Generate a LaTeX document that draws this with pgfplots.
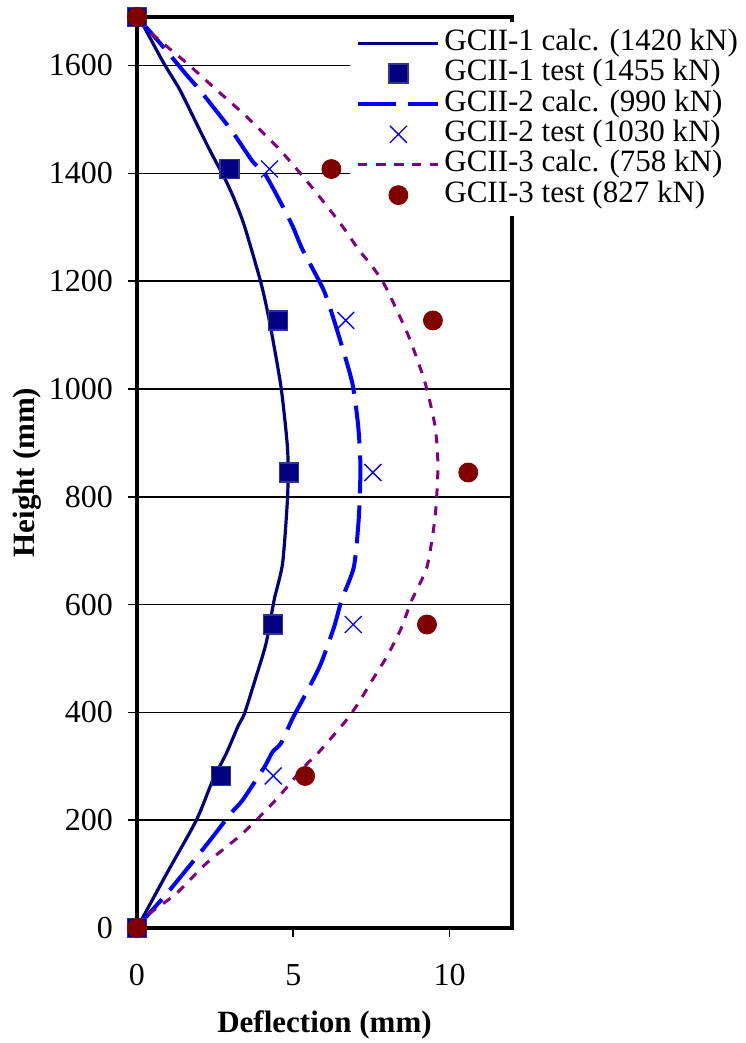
\documentclass[border=0pt]{standalone}
\usepackage{fontspec}
\setmainfont{Liberation Serif}
\usepackage{pgfplots}
\pgfplotsset{compat=1.18}
\definecolor{navyc}{RGB}{0,0,128}
\definecolor{navyedge}{RGB}{50,50,150}
\definecolor{bluec}{RGB}{0,0,255}
\definecolor{purplec}{RGB}{128,0,128}
\definecolor{darkredc}{RGB}{128,0,0}
\begin{document}
\fontsize{16}{19}\selectfont
\begin{tikzpicture}
\begin{axis}[
  scale only axis,
  width=187.5pt, height=455.5pt,
  xmin=0, xmax=12, ymin=0, ymax=1690,
  xtick={0,5,10}, ytick={0,200,...,1600},
  clip=false,
  axis line style={line width=1.8pt},
  tick style={line width=0.8pt, black},
  tick align=outside,
  major tick length=4.5pt,
  xtick pos=bottom, ytick pos=left,
  ymajorgrids,
  major grid style={line width=0.8pt, black},
  /pgf/number format/assume math mode=true,
  /pgf/number format/1000 sep={},
  ticklabel style={font=\fontsize{16}{19}\selectfont},
  xticklabel style={yshift=-8pt},
  yticklabel style={xshift=-2pt},
  xlabel={\textbf{Deflection (mm)}},
  ylabel={\textbf{Height (mm)}},
  xlabel style={at={(axis description cs:0.5,-0.1065)}, anchor=center},
  ylabel style={at={(axis description cs:-0.293,0.5)}, anchor=center},
  label style={font=\fontsize{15.5}{18}\selectfont},
  legend image code/.code={\draw[mark repeat=2,mark phase=2,#1] plot coordinates {(0pt,0pt) (20pt,0pt) (40pt,0pt)};},
  legend style={at={(0.568,0.995)}, anchor=north west, draw=none, fill=white,
    inner xsep=3pt, inner ysep=3pt, font=\fontsize{15.5}{18}\selectfont,
    row sep=0pt, nodes={inner xsep=2pt, inner ysep=0pt, text height=11.2pt, text depth=4pt},
    cells={anchor=west}},
]
% GCII-1 calc
\addplot[navyc, line width=1.6pt, no marks, smooth, tension=0.4] coordinates {
(0,0) (0.2,21) (0.95,101) (1.9,200) (2.43,275) (2.86,324) (3.23,374) (3.44,398) (3.81,466) (4.13,528) (4.39,609) (4.66,677) (4.82,802) (4.82,887) (4.61,1003) (4.24,1125) (3.97,1196) (3.44,1302) (3.12,1351) (2.83,1388) (2.32,1444) (1.95,1487) (1.37,1555) (0.85,1605) (0.1,1685) (0,1690)};
\addlegendentry{GCII-1 calc. (1420 kN)}
% GCII-1 test
\addplot[only marks, mark=square*, mark size=4.75pt, mark options={fill=navyc, draw=navyedge, line width=0.6pt}] coordinates {
(0,0) (2.70,282) (4.36,563) (4.87,845) (4.50,1127) (2.96,1408) (0,1690)};
\addlegendentry{GCII-1 test (1455 kN)}
% GCII-2 calc
\addplot[bluec, line width=2pt, no marks, dash pattern=on 19pt off 6pt, smooth, tension=0.4] coordinates {
(0,0) (0.3,21) (1.0,67) (2.22,154) (3.01,213) (3.39,238) (4.08,299) (4.34,327) (4.61,343) (4.98,389) (5.24,417) (5.72,470) (5.93,497) (6.31,559) (6.55,609) (6.94,670) (7.10,763) (7.15,856) (7.08,930) (6.89,1011) (6.46,1098) (5.99,1181) (5.30,1258) (4.98,1302) (4.55,1351) (4.08,1400) (3.70,1422) (3.07,1476) (2.75,1500) (2.0,1555) (1.58,1583) (0.73,1642) (0,1690)};
\addlegendentry{GCII-2 calc. (990 kN)}
% GCII-2 test
\addplot[only marks, mark=x, mark size=6pt, mark options={draw=bluec, line width=0.7pt}] coordinates {
(0,0) (4.36,282) (6.92,563) (7.55,845) (6.68,1127) (4.24,1408) (0,1690)};
\addlegendentry{GCII-2 test (1030 kN)}
% GCII-3 calc
\addplot[purplec, line width=1.5pt, no marks, dash pattern=on 4.5pt off 4.5pt, smooth, tension=0.4] coordinates {
(0,0) (0.41,27) (1.26,64) (2.22,120) (3.39,176) (4.45,238) (5.35,299) (5.83,327) (6.62,380) (7.05,414) (7.53,460) (8.00,504) (8.43,553) (8.80,609) (9.28,670) (9.54,763) (9.63,856) (9.54,930) (9.22,1011) (8.69,1098) (7.95,1190) (7.53,1227) (7.10,1258) (6.57,1302) (6.04,1342) (5.40,1388) (4.55,1445) (3.49,1506) (2.54,1555) (1.58,1605) (0.31,1667) (0,1690)};
\addlegendentry{GCII-3 calc. (758 kN)}
% GCII-3 test
\addplot[only marks, mark=*, mark size=4.75pt, mark options={fill=darkredc, draw=darkredc}] coordinates {
(0,0) (5.38,282) (9.28,563) (10.6,845) (9.47,1127) (6.22,1408) (0,1690)};
\addlegendentry{GCII-3 test (827 kN)}
\end{axis}
\pgfresetboundingbox
\path[use as bounding box] ([xshift=-68.5pt,yshift=-57.5pt]current axis.south west) rectangle ([xshift=116.5pt,yshift=8.5pt]current axis.north east);
\end{tikzpicture}
\end{document}
